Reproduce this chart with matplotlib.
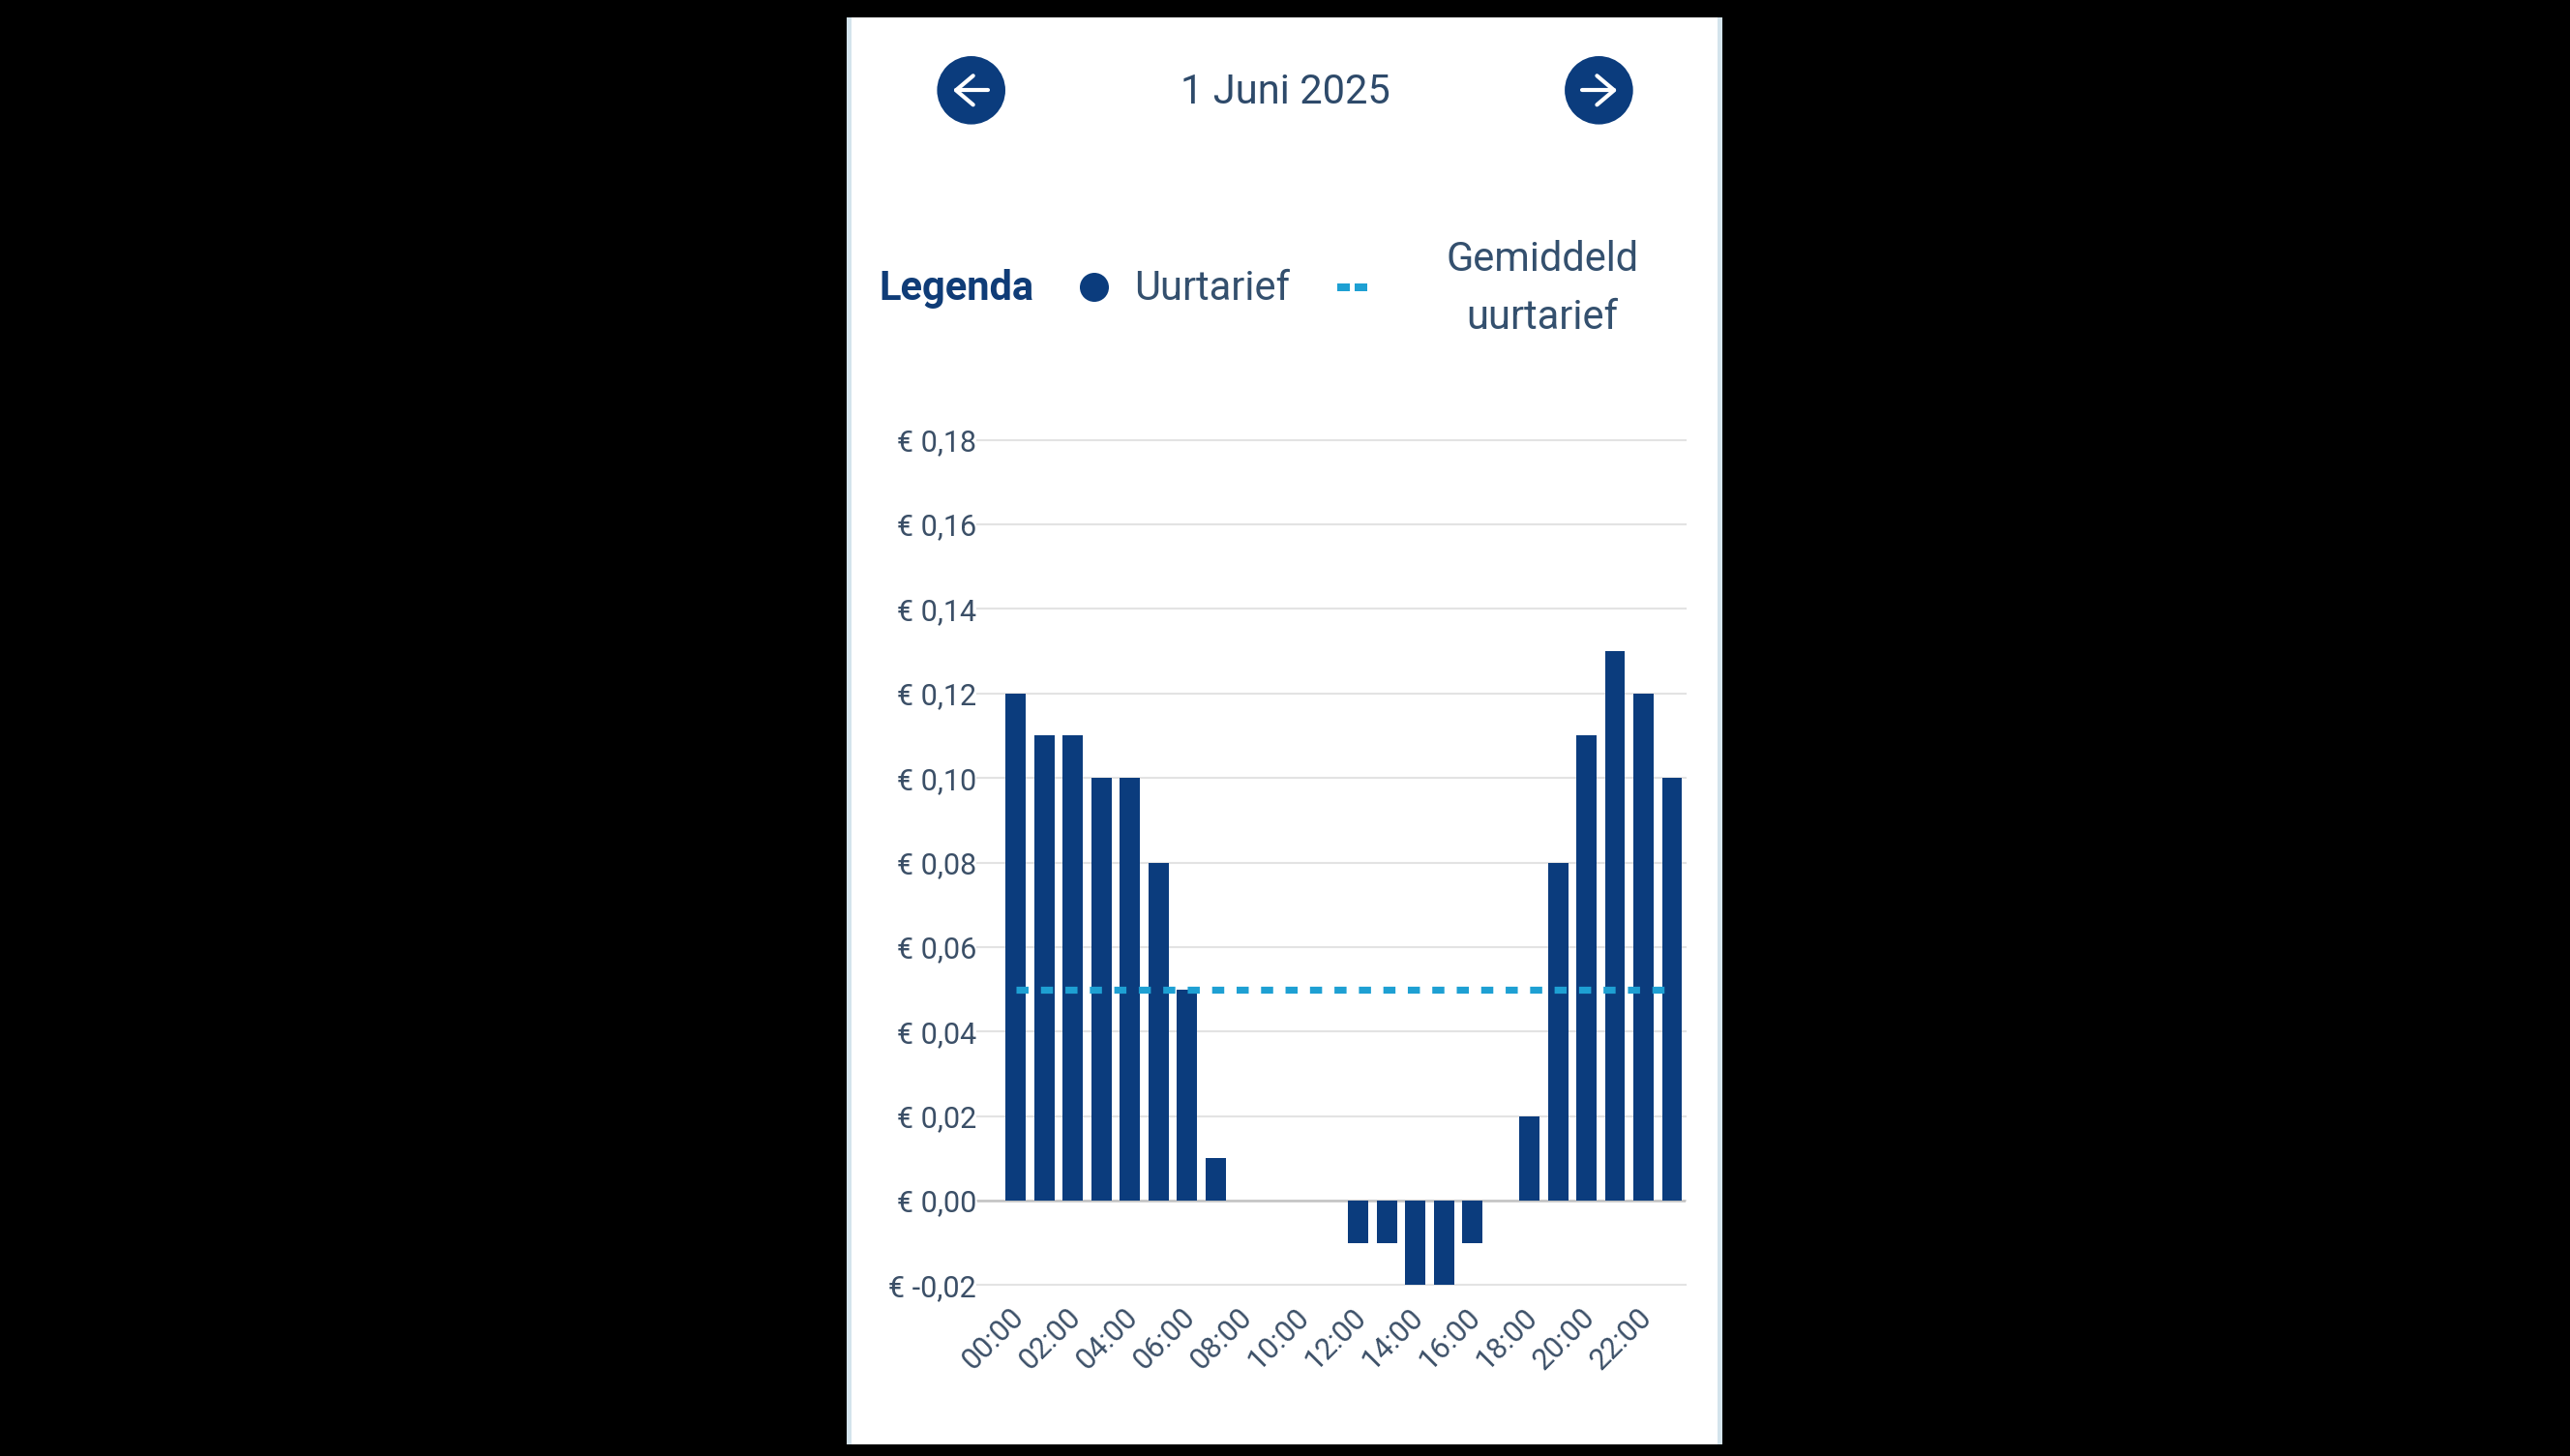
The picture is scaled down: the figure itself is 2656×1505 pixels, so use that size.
import numpy as np
import matplotlib
matplotlib.use("Agg")
import matplotlib.pyplot as plt
from matplotlib.patches import Rectangle, Circle
from matplotlib.transforms import ScaledTranslation

plt.rcParams['font.family'] = ['Roboto', 'DejaVu Sans']

# ---- data ----
hours = ["00:00", "01:00", "02:00", "03:00", "04:00", "05:00", "06:00", "07:00",
         "08:00", "09:00", "10:00", "11:00", "12:00", "13:00", "14:00", "15:00",
         "16:00", "17:00", "18:00", "19:00", "20:00", "21:00", "22:00", "23:00"]
prices = [0.12, 0.11, 0.11, 0.10, 0.10, 0.08, 0.05, 0.01,
          0.00, 0.00, 0.00, 0.00, -0.01, -0.01, -0.02, -0.02,
          -0.01, 0.00, 0.02, 0.08, 0.11, 0.13, 0.12, 0.10]
avg_price = 0.05
y_ticks = [-0.02, 0.00, 0.02, 0.04, 0.06, 0.08, 0.10, 0.12, 0.14, 0.16, 0.18]
y_tick_labels = ["€ -0,02", "€ 0,00", "€ 0,02", "€ 0,04", "€ 0,06", "€ 0,08",
                 "€ 0,10", "€ 0,12", "€ 0,14", "€ 0,16", "€ 0,18"]
x_tick_labels = hours[::2]
title = "1 Juni 2025"

BAR = '#0b3c7d'
CYAN = '#1ea0d3'
TXT = '#34506e'

W, H = 2656, 1505
fig = plt.figure(figsize=(W / 100, H / 100), dpi=100, facecolor='black')

# background / overlay axes in pixel coordinates (y down)
bg = fig.add_axes([0, 0, 1, 1], zorder=0)
bg.set_xlim(0, W)
bg.set_ylim(H, 0)
bg.axis('off')

bg.add_patch(Rectangle((875, 18), 905, 1475, facecolor='white', edgecolor='none'))
bg.add_patch(Rectangle((875, 18), 5, 1475, facecolor='#d4e4ec', edgecolor='none'))
bg.add_patch(Rectangle((1775, 18), 5, 1475, facecolor='#d4e4ec', edgecolor='none'))

# navigation buttons
for cx, d in [(1003.7, -1), (1652.4, 1)]:
    bg.add_patch(Circle((cx, 93.3), 35.3, facecolor=BAR, edgecolor='none'))
    tip = cx + d * 15.7
    tail = cx - d * 17.3
    arm = cx - d * 2.0
    bg.plot([tail, tip], [93.3, 93.3], color='white', lw=3.0, solid_capstyle='round')
    bg.plot([arm, tip, arm], [78.3, 93.3, 108.3], color='white', lw=3.0,
            solid_capstyle='round', solid_joinstyle='round')

bg.text(1328, 107, title, ha='center', va='baseline', fontsize=30, color='#2e4a6a')

# legend
bg.text(908, 310, "Legenda", ha='left', va='baseline', fontsize=30, fontweight='bold', color='#0f3c77')
bg.add_patch(Circle((1131, 297), 15, facecolor=BAR, edgecolor='none'))
bg.text(1172, 309.5, "Uurtarief", ha='left', va='baseline', fontsize=30, color=TXT)
bg.add_patch(Rectangle((1382, 293), 13, 8, facecolor=CYAN, edgecolor='none'))
bg.add_patch(Rectangle((1400, 293), 13, 8, facecolor=CYAN, edgecolor='none'))
bg.text(1594, 279.5, "Gemiddeld", ha='center', va='baseline', fontsize=30, color=TXT)
bg.text(1594, 340.5, "uurtarief", ha='center', va='baseline', fontsize=30, color=TXT)

# chart axes
ax_left, ax_right = 1010, 1742
ax_top, ax_bot = 454.7, 1328.4
ax = fig.add_axes([ax_left / W, 1 - ax_bot / H, (ax_right - ax_left) / W, (ax_bot - ax_top) / H],
                  zorder=1)
ax.set_facecolor('none')
x = np.arange(len(prices))
ax.bar(x, prices, width=0.71, color=BAR, zorder=3)
ax.plot([x[0], x[-1]], [avg_price, avg_price], color=CYAN, lw=5.2,
        dashes=(1.73, 1.77), dash_capstyle='butt', zorder=4)
ax.axhline(0, color='#c2c2c2', lw=1.8, zorder=2)

ax.set_xlim(-1.351, 23.475)
ax.set_ylim(-0.02, 0.18)
ax.set_yticks(y_ticks)
ax.set_yticklabels(y_tick_labels)
ax.set_xticks(x[::2])
ax.set_xticklabels(x_tick_labels)
ax.grid(axis='y', color='#e3e3e3', lw=1.5, zorder=1)
for gl in ax.get_ygridlines():
    gl.set_clip_on(False)
ax.grid(axis='x', visible=False)
for s in ax.spines.values():
    s.set_visible(False)
ax.tick_params(axis='y', length=0, pad=0.8, labelsize=22, labelcolor='#3b4f67')
ax.tick_params(axis='x', length=0, pad=20.5, labelsize=22, labelcolor='#3b4f67')
shift = ScaledTranslation(3.5 / 100, 0, fig.dpi_scale_trans)
for lab in ax.get_xticklabels():
    lab.set_rotation(45)
    lab.set_ha('right')
    lab.set_va('center')
    lab.set_rotation_mode('anchor')
    lab.set_transform(lab.get_transform() + shift)

fig.savefig('out.png', dpi=100, facecolor='black')
